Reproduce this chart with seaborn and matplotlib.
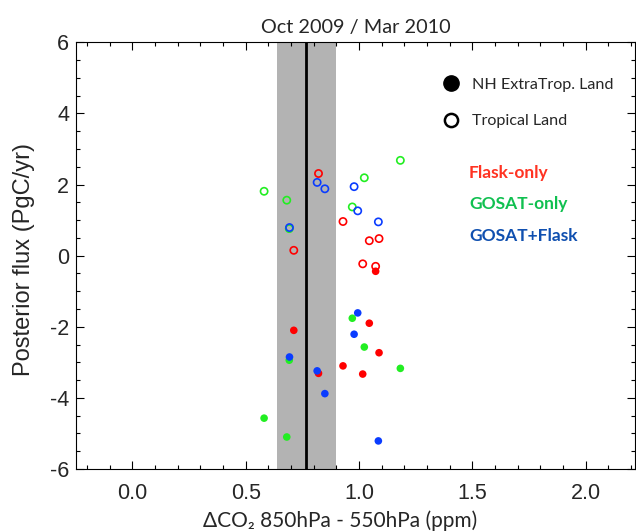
import matplotlib
matplotlib.use("Agg")
import matplotlib.pyplot as plt
import numpy as np
import pandas as pd
import seaborn as sns
from matplotlib.lines import Line2D
from matplotlib.ticker import MultipleLocator, FormatStrFormatter

# experiments: x = delta CO2 850-550 hPa, flux for NH extratropical and tropical land
flask_x = [0.712, 0.821, 0.929, 1.016, 1.045, 1.073, 1.088]
flask_nh = [-2.10, -3.31, -3.10, -3.33, -1.90, -0.44, -2.73]
flask_trop = [0.15, 2.31, 0.96, -0.23, 0.42, -0.30, 0.48]

gosat_x = [0.581, 0.681, 0.692, 0.970, 1.023, 1.182]
gosat_nh = [-4.57, -5.10, -2.94, -1.76, -2.57, -3.17]
gosat_trop = [1.81, 1.56, 0.76, 1.37, 2.19, 2.68]

both_x = [0.693, 0.815, 0.849, 0.978, 0.994, 1.085]
both_nh = [-2.85, -3.24, -3.88, -2.21, -1.61, -5.21]
both_trop = [0.79, 2.06, 1.88, 1.94, 1.26, 0.95]

groups = ["Flask-only", "GOSAT-only", "GOSAT+Flask"]
obs_mean = 0.765
obs_lo, obs_hi = 0.636, 0.900

marker_pal = {"Flask-only": "#ff0000", "GOSAT-only": "#22ee22", "GOSAT+Flask": "#0a3cff"}
text_pal = {"Flask-only": "#ff3322", "GOSAT-only": "#10c050", "GOSAT+Flask": "#1050b0"}

rows = []
for g, xs, nh, tr in zip(groups, [flask_x, gosat_x, both_x],
                         [flask_nh, gosat_nh, both_nh], [flask_trop, gosat_trop, both_trop]):
    for x, a, b in zip(xs, nh, tr):
        rows.append({"group": g, "dco2": x, "region": "NH ExtraTrop. Land", "flux": a})
        rows.append({"group": g, "dco2": x, "region": "Tropical Land", "flux": b})
df = pd.DataFrame(rows)

sns.set_style("ticks")
plt.rcParams["font.family"] = ["Liberation Sans", "DejaVu Sans"]
plt.rcParams["axes.unicode_minus"] = False
label_font = ["Lato", "DejaVu Sans"]

fig = plt.figure(figsize=(6.36, 5.31), dpi=100)
ax = fig.add_axes([75.7 / 636, 62 / 531, 559.3 / 636, 426.7 / 531])

ax.axvspan(obs_lo, obs_hi, color="#b3b3b3", lw=0, zorder=0.5)
ax.axvline(obs_mean, color="black", lw=2.0, zorder=1.5)

nh = df[df.region == "NH ExtraTrop. Land"]
tr = df[df.region == "Tropical Land"]
sns.scatterplot(data=nh, x="dco2", y="flux", hue="group", palette=marker_pal,
                s=30, linewidth=0, legend=False, ax=ax, zorder=2)
sns.scatterplot(data=tr, x="dco2", y="flux", hue="group", palette=marker_pal,
                s=27, linewidth=1.2, legend=False, ax=ax, zorder=2)
open_coll = ax.collections[-1]
open_coll.set_edgecolors(open_coll.get_facecolors())
open_coll.set_facecolors("none")

ax.set_xlim(-0.25, 2.217)
ax.set_ylim(-6, 6)
ax.xaxis.set_major_locator(MultipleLocator(0.5))
ax.xaxis.set_minor_locator(MultipleLocator(0.1))
ax.xaxis.set_major_formatter(FormatStrFormatter("%.1f"))
ax.yaxis.set_major_locator(MultipleLocator(2))
ax.yaxis.set_minor_locator(MultipleLocator(0.5))
ax.tick_params(which="both", direction="in", top=True, right=True, width=0.8,
               labelsize=15.5, color="black")
ax.tick_params(which="major", length=5.8)
ax.tick_params(which="minor", length=2.9)
ax.tick_params(axis="x", pad=10)
ax.tick_params(axis="y", pad=4.8)
for sp in ax.spines.values():
    sp.set_linewidth(0.8)
    sp.set_color("black")

ax.set_title("Oct 2009 / Mar 2010", fontsize=14.3, family=label_font, pad=7)
ax.set_ylabel("Posterior flux (PgC/yr)", fontsize=17)
ax.yaxis.label.set_verticalalignment("center")
ax.yaxis.set_label_coords(-0.093, 0.492)
ax.set_xlabel("\u0394CO\u2082 850hPa - 550hPa (ppm)", fontsize=15, family=label_font)
ax.xaxis.label.set_verticalalignment("baseline")
ax.xaxis.set_label_coords(0.4726, -0.136)

handles = [Line2D([], [], ls="none", marker="o", color="black", markersize=11),
           Line2D([], [], ls="none", marker="o", markerfacecolor="none",
                  markeredgecolor="black", markeredgewidth=1.8, markersize=9.5)]
ax.legend(handles, ["NH ExtraTrop. Land", "Tropical Land"], loc="upper left",
          bbox_to_anchor=(0.642, 0.937), frameon=False, borderpad=0, handlelength=1,
          handletextpad=0.8, labelspacing=1.4, prop={"family": label_font, "size": 11.6})

for g, yy in zip(groups, [0.694, 0.621, 0.546]):
    ax.text(0.703, yy, g, transform=ax.transAxes, color=text_pal[g], fontsize=12.5,
            fontweight="bold", family=label_font, va="center", ha="left")

fig.savefig("out.png", dpi=100)
